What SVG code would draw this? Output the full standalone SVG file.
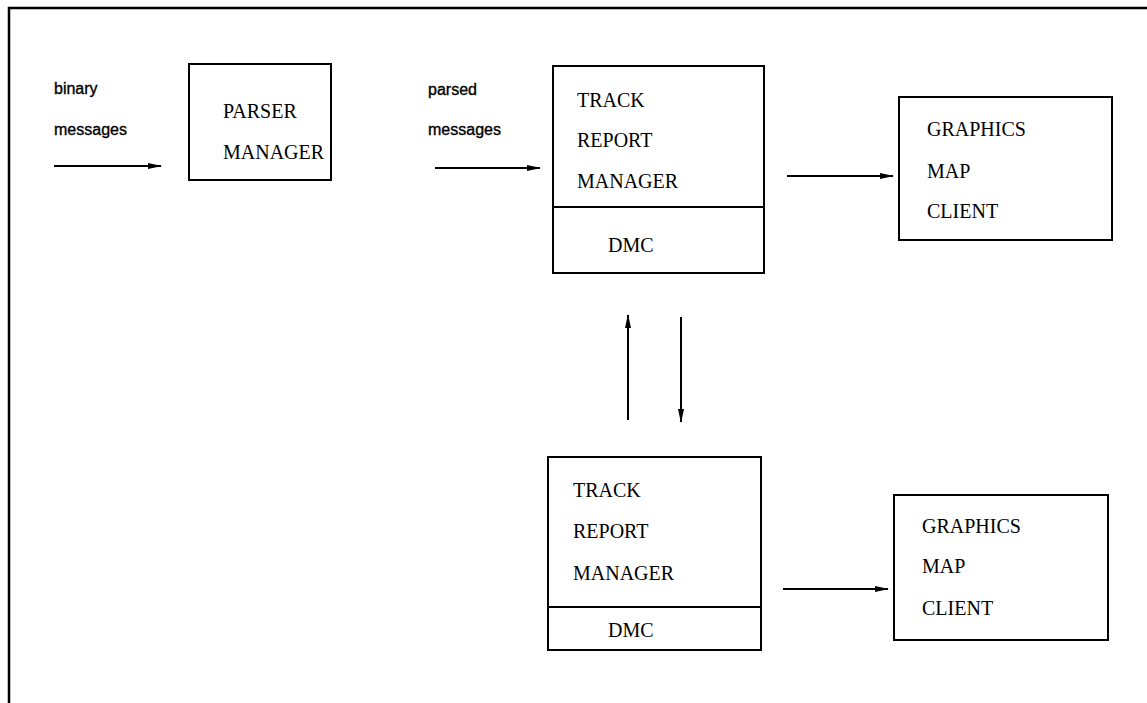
<svg xmlns="http://www.w3.org/2000/svg" width="1147" height="703" viewBox="0 0 1147 703">
<style>
.box{fill:#fff;stroke:#000;stroke-width:2}
.frame{fill:none;stroke:#000;stroke-width:2.5}
.t{font-family:"Liberation Serif","Times New Roman",serif;font-size:20px;fill:#000}
.l{font-family:"Liberation Sans",Arial,sans-serif;font-size:16px;fill:#000;stroke:#000;stroke-width:0.35}
.c{stroke:#000;stroke-width:2;fill:none;marker-end:url(#ah)}
</style>
<defs>
<marker id="ah" viewBox="0 0 14 6" refX="13" refY="3" markerWidth="14" markerHeight="6" markerUnits="userSpaceOnUse" orient="auto">
<path d="M0,0 L14,3 L0,6 Z" fill="#000"/>
</marker>
</defs>
<rect width="1147" height="703" fill="#fff"/>
<g id="frame">
<path class="frame" d="M9,703 V8 H1147"/>
</g>
<g id="labels">
<text class="l" x="54" y="94">binary</text>
<text class="l" x="54" y="135">messages</text>
<text class="l" x="428" y="95">parsed</text>
<text class="l" x="428" y="135">messages</text>
</g>
<g id="parser-manager">
<rect class="box" x="189" y="64" width="142" height="116"/>
<text class="t" x="223" y="118">PARSER</text>
<text class="t" x="223" y="159">MANAGER</text>
</g>
<g id="track-report-manager-1">
<rect class="box" x="553" y="66" width="211" height="207"/>
<line x1="553" y1="207" x2="764" y2="207" stroke="#000" stroke-width="2"/>
<text class="t" x="577" y="107">TRACK</text>
<text class="t" x="577" y="147">REPORT</text>
<text class="t" x="577" y="188">MANAGER</text>
<text class="t" x="608" y="252">DMC</text>
</g>
<g id="graphics-map-client-1">
<rect class="box" x="899" y="97" width="213" height="143"/>
<text class="t" x="927" y="136">GRAPHICS</text>
<text class="t" x="927" y="178">MAP</text>
<text class="t" x="927" y="218">CLIENT</text>
</g>
<g id="track-report-manager-2">
<rect class="box" x="548" y="457" width="213" height="193"/>
<line x1="548" y1="607" x2="761" y2="607" stroke="#000" stroke-width="2"/>
<text class="t" x="573" y="497">TRACK</text>
<text class="t" x="573" y="538">REPORT</text>
<text class="t" x="573" y="580">MANAGER</text>
<text class="t" x="608" y="637">DMC</text>
</g>
<g id="graphics-map-client-2">
<rect class="box" x="894" y="495" width="214" height="145"/>
<text class="t" x="922" y="533">GRAPHICS</text>
<text class="t" x="922" y="573">MAP</text>
<text class="t" x="922" y="615">CLIENT</text>
</g>
<g id="connectors">
<line class="c" x1="54" y1="166" x2="161" y2="166"/>
<line class="c" x1="435" y1="168" x2="540" y2="168"/>
<line class="c" x1="787" y1="176" x2="893" y2="176"/>
<line class="c" x1="628" y1="420" x2="628" y2="315"/>
<line class="c" x1="681" y1="317" x2="681" y2="422"/>
<line class="c" x1="783" y1="589" x2="888" y2="589"/>
</g>
</svg>
